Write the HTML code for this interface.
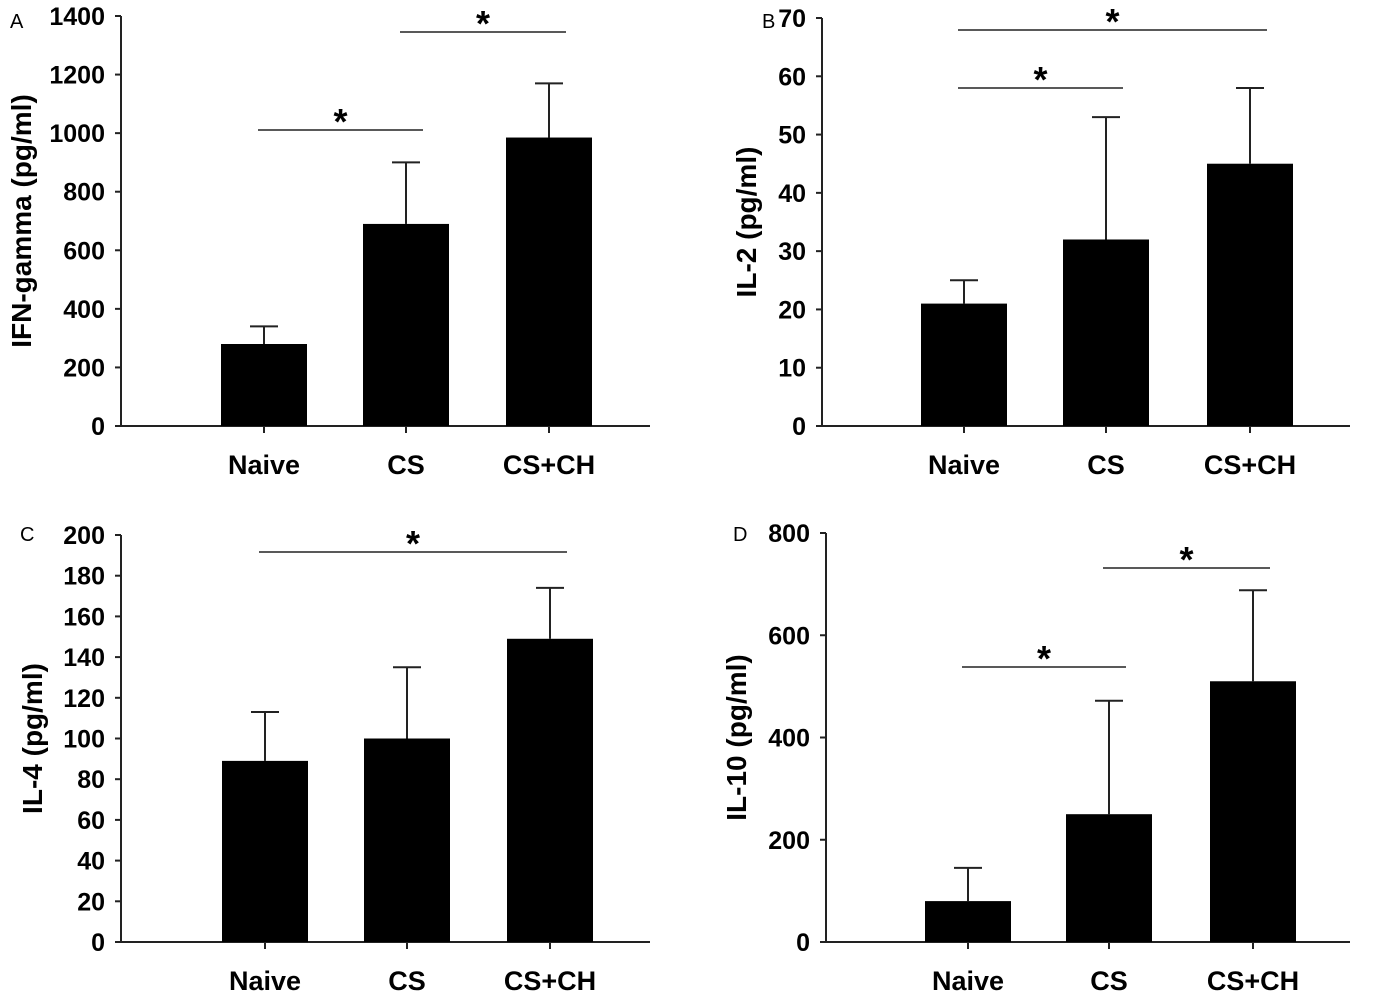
<!DOCTYPE html>
<html><head><meta charset="utf-8"><style>
body{margin:0;background:#fff}
svg text{font-family:"Liberation Sans",Arial,sans-serif}
</style></head><body>
<svg id="c" width="1400" height="993" xmlns="http://www.w3.org/2000/svg"></svg>
<script>
const categories=["Naive","CS","CS+CH"];
const ifnMeans=[280,690,985];
const ifnErrs=[340,900,1170];
const il2Means=[21,32,45];
const il2Errs=[25,53,58];
const il4Means=[89,100,149];
const il4Errs=[113,135,174];
const il10Means=[80,250,510];
const il10Errs=[145,472,688];
const ifnTicks=[0,200,400,600,800,1000,1200,1400];
const il2Ticks=[0,10,20,30,40,50,60,70];
const il4Ticks=[0,20,40,60,80,100,120,140,160,180,200];
const il10Ticks=[0,200,400,600,800];
const svg=document.getElementById('c');
const NS="http://www.w3.org/2000/svg";
function mk(tag,attrs,parent){const e=document.createElementNS(NS,tag);for(const k in attrs)e.setAttribute(k,attrs[k]);parent.appendChild(e);return e;}
const panels=[
 {id:'a',letter:'A',title:'IFN-gamma (pg/ml)',means:ifnMeans,errs:ifnErrs,ticks:ifnTicks,ax:121,x1:650,y0:426,yt:16,bx:[221,363,506],titleX:31,sig:[[0,1,130],[1,2,32]],lx:10,ly:28},
 {id:'b',letter:'B',title:'IL-2 (pg/ml)',means:il2Means,errs:il2Errs,ticks:il2Ticks,ax:822,x1:1350,y0:426,yt:18,bx:[921,1063,1207],titleX:756,sig:[[0,1,88],[0,2,30]],lx:762,ly:28},
 {id:'c',letter:'C',title:'IL-4 (pg/ml)',means:il4Means,errs:il4Errs,ticks:il4Ticks,ax:121,x1:650,y0:942,yt:535,bx:[222,364,507],titleX:42,sig:[[0,2,552]],lx:20,ly:541},
 {id:'d',letter:'D',title:'IL-10 (pg/ml)',means:il10Means,errs:il10Errs,ticks:il10Ticks,ax:826,x1:1350,y0:942,yt:533,bx:[925,1066,1210],titleX:746,sig:[[0,1,667],[1,2,568]],lx:733,ly:541}
];
const bw=86;
panels.forEach(p=>{
 const g=mk('g',{},svg);
 
 
 const max=p.ticks[p.ticks.length-1];
 const y=v=>p.y0-(v/max)*(p.y0-p.yt);
 const cx=i=>p.bx[i]+bw/2;
 const lt=mk('text',{x:p.lx,y:p.ly,'font-size':20},g);lt.textContent=p.letter;
 
 const ya=mk('line',{x1:p.ax,x2:p.ax,y1:p.y0,y2:p.yt,stroke:'#222','stroke-width':2},g);
 
 const xa=mk('line',{x1:p.ax-5,x2:p.x1,y1:p.y0,y2:p.y0,stroke:'#222','stroke-width':2},g);
 
 p.ticks.forEach(t=>{
  mk('line',{x1:p.ax-6,x2:p.ax,y1:y(t),y2:y(t),stroke:'#222','stroke-width':2},g);
  const tx=mk('text',{x:p.ax-16,y:y(t)+9,'font-size':25,'font-weight':'bold','text-anchor':'end'},g);
  tx.textContent=t;
  
 });
 const yt=mk('text',{x:0,y:0,'font-size':28,'font-weight':'bold','text-anchor':'middle',transform:`translate(${p.titleX},${(p.y0+p.yt)/2}) rotate(-90)`},g);
 yt.textContent=p.title;
 
 categories.forEach((c,i)=>{
  mk('line',{x1:cx(i),x2:cx(i),y1:p.y0,y2:p.y0+7,stroke:'#222','stroke-width':2},g);
  const er=mk('line',{x1:cx(i),x2:cx(i),y1:y(p.means[i]),y2:y(p.errs[i]),stroke:'#222','stroke-width':2},g);
  
  mk('line',{x1:cx(i)-14,x2:cx(i)+14,y1:y(p.errs[i]),y2:y(p.errs[i]),stroke:'#222','stroke-width':2},g);
  const r=mk('rect',{x:p.bx[i],y:y(p.means[i]),width:bw,height:p.y0-y(p.means[i]),fill:'#000'},g);
  
  
  const cl=mk('text',{x:cx(i),y:p.y0+48,'font-size':27,'font-weight':'bold','text-anchor':'middle'},g);
  cl.textContent=c;
  
 });
 p.sig.forEach(s=>{
  const a=cx(s[0])-6,b=cx(s[1])+17;
  const l=mk('line',{x1:a,x2:b,y1:s[2],y2:s[2],stroke:'#222','stroke-width':1.5},g);
  
  const st=mk('text',{x:(a+b)/2,y:s[2]+4,'font-size':36,'font-weight':'bold','text-anchor':'middle'},g);
  st.textContent='*';
  
 });
});
</script>
</body></html>
